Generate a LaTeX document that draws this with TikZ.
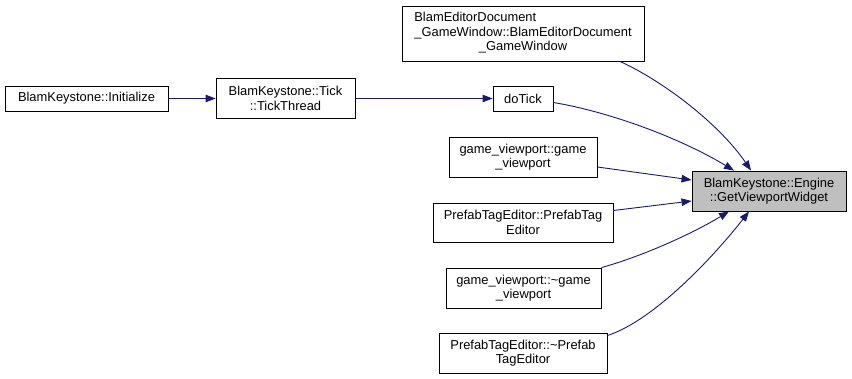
\documentclass[tikz,border=0pt]{standalone}
\usepackage{fontspec}
\setmainfont{Liberation Sans}
\usetikzlibrary{arrows.meta,calc}
\definecolor{edgeblue}{HTML}{191970}
\definecolor{hl}{HTML}{BFBFBF}
\begin{document}
\begin{tikzpicture}[x=1pt,y=-1pt,
  box/.style={draw=black, line width=0.9pt, rectangle, inner sep=0pt, align=center,
    font=\fontsize{12.9}{14.5}\selectfont, fill=white},
  target/.style={box, fill=hl},
  edge/.style={draw=edgeblue, line width=0.9pt, -{Triangle[length=10pt,width=7.5pt]}}]
\useasboundingbox[fill=white] (0,0) rectangle (852,379);

\node[box, minimum width=163pt, minimum height=25pt] (init) at (86.5,98.5) {BlamKeystone::Initialize};
\node[box, minimum width=139pt, minimum height=40pt] (tick) at (285.5,98.5) {BlamKeystone::Tick\\::TickThread};
\node[box, minimum width=242pt, minimum height=55pt] (doc) at (523,33.5)
  {\begin{tabular}{@{}l@{}}BlamEditorDocument\\\_GameWindow::BlamEditorDocument\\\multicolumn{1}{@{}c@{}}{\_GameWindow}\end{tabular}};
\node[box, minimum width=60pt, minimum height=25pt] (dotick) at (523,98.5) {doTick};
\node[box, minimum width=148pt, minimum height=40pt] (gv) at (523,157) {game\_viewport::game\\\_viewport};
\node[target, minimum width=154pt, minimum height=40pt] (eng) at (769,191) {BlamKeystone::Engine\\::GetViewportWidget};
\node[box, minimum width=180pt, minimum height=39pt] (pte) at (523,222.5) {PrefabTagEditor::PrefabTag\\Editor};
\node[box, minimum width=155pt, minimum height=40pt] (gvd) at (523.5,288) {game\_viewport::\textasciitilde game\\\_viewport};
\node[box, minimum width=168pt, minimum height=40pt] (pted) at (523,353) {PrefabTagEditor::\textasciitilde Prefab\\TagEditor};

\draw[edge] (init.east) -- (tick.west);
\draw[edge] (tick.east) -- (dotick.west);
\draw[edge] ($(doc.south)+(97,0)$) .. controls (665,82) and (720,125) .. ($(eng.north)+(-18,0)$);
\draw[edge] ($(dotick.east)+(0,4)$) .. controls (610,112) and (680,138) .. ($(eng.north)+(-35,0)$);
\draw[edge] ($(gv.east)+(0,10)$) -- ($(eng.west)+(0,-11)$);
\draw[edge] ($(pte.east)+(0,-12)$) -- ($(eng.west)+(0,10)$);
\draw[edge] ($(gvd.north east)+(0,0)$) .. controls (640,257) and (690,235) .. ($(eng.south)+(-40,0)$);
\draw[edge] ($(pted.north east)+(0,3)$) .. controls (655,320) and (715,255) .. ($(eng.south)+(-20,0)$);
\end{tikzpicture}
\end{document}
